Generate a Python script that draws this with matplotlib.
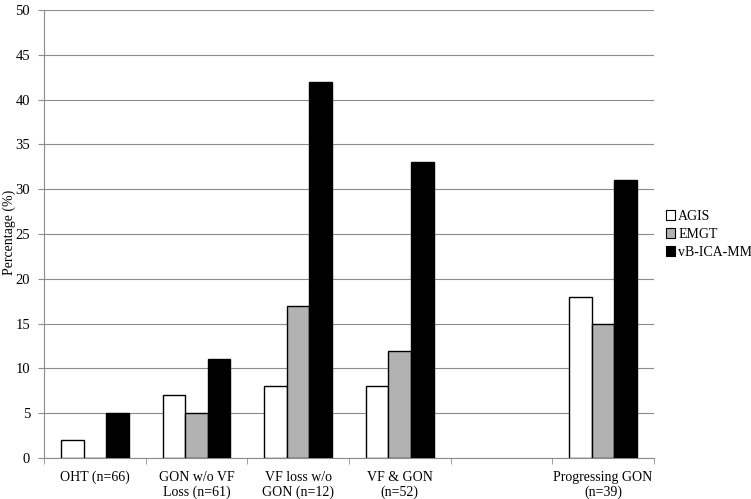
import numpy as np
import matplotlib
matplotlib.use('Agg')
import matplotlib.pyplot as plt
from matplotlib.patches import Patch

###Data
categories = ['OHT (n=66)', 'GON w/o VF\nLoss (n=61)', 'VF loss w/o\nGON (n=12)', 'VF & GON\n(n=52)', '', 'Progressing GON\n(n=39)']
agis = [2, 7, 8, 8, np.nan, 18]
emgt = [0, 5, 17, 12, np.nan, 15]
vbica = [5, 11, 42, 33, np.nan, 31]
series_names = ['AGIS', 'EMGT', 'vB-ICA-MM']
colors = ['white', '#b2b2b2', 'black']

plt.rcParams['font.family'] = ['Liberation Serif', 'DejaVu Serif']

fig = plt.figure(figsize=(7.51, 4.99), dpi=100)
ax = fig.add_axes([0.0586, 0.082, 0.812, 0.898])

x = np.arange(len(categories))
w = 1 / 4.5
for i, vals in enumerate([agis, emgt, vbica]):
    ax.bar(x + (i - 1) * w, vals, width=w, color=colors[i], edgecolor='black', linewidth=1.0, zorder=3)

ax.set_xlim(-0.5, len(categories) - 0.5)
ax.set_ylim(0, 50)
ax.set_yticks(range(0, 51, 5))
ax.yaxis.grid(True, color='#8c8c8c', linewidth=0.8, zorder=0)

ax.set_xticks(x)
ax.set_xticklabels(categories, fontsize=10, linespacing=1.15)
ax.set_xticks(np.arange(-0.5, len(categories)), minor=True)
ax.tick_params(axis='x', which='major', length=0, pad=9)
ax.tick_params(axis='x', which='minor', length=4, color='#8c8c8c', direction='out')
ax.tick_params(axis='y', length=4, color='#8c8c8c', labelsize=10.5, pad=6)

for s in ['top', 'right']:
    ax.spines[s].set_visible(False)
for s in ['left', 'bottom']:
    ax.spines[s].set_color('#8c8c8c')

fig.text(0.012, 0.535, 'Percentage (%)', rotation=90, fontsize=10, ha='center', va='center')

handles = [Patch(facecolor=c, edgecolor='black', linewidth=0.8) for c in colors]
fig.legend(handles, series_names, loc='upper left', bbox_to_anchor=(0.879, 0.59),
           frameon=False, fontsize=10, handlelength=0.7, handleheight=0.7,
           handletextpad=0.2, labelspacing=0.35, borderaxespad=0)

fig.savefig('out.png', dpi=100)
